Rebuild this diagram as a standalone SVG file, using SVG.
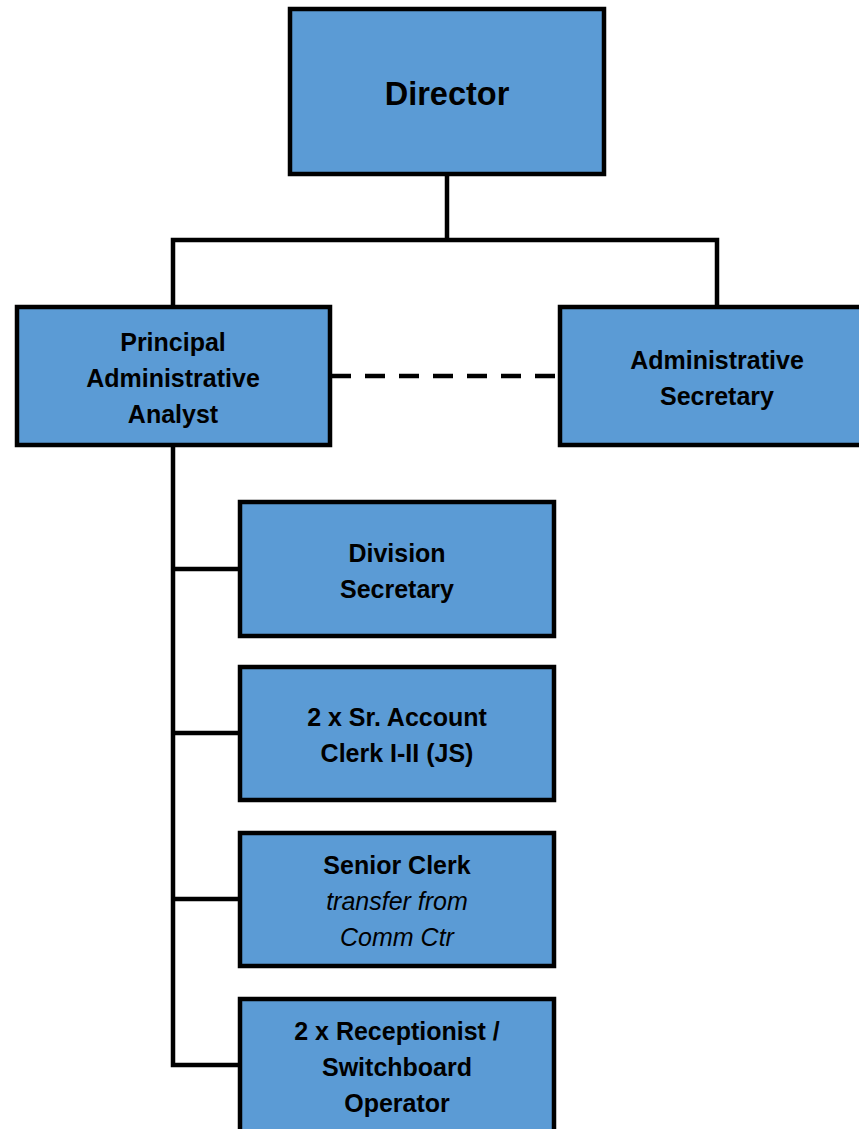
<svg xmlns="http://www.w3.org/2000/svg" width="859" height="1129" viewBox="0 0 859 1129">
<style>
.box{fill:#5B9BD5;stroke:#000;stroke-width:4.5}
.ln{fill:none;stroke:#000;stroke-width:4.5;stroke-linejoin:miter}
.dash{fill:none;stroke:#000;stroke-width:4.5;stroke-dasharray:20 14}
text{font-family:"Liberation Sans",Arial,sans-serif;font-weight:bold;font-size:25px;fill:#000;text-anchor:middle}
.t1{font-size:32.5px}
.it{font-weight:normal;font-style:italic}
</style>
<rect width="859" height="1129" fill="#fff"/>
<g id="connectors">
<path class="ln" d="M447 174V240M173 307V240H717V307"/>
<path class="dash" d="M331 376H558"/>
<path class="ln" d="M173 446V1065H240M173 569H240M173 733H240M173 899H240"/>
</g>
<g id="director"><rect class="box" x="290" y="9" width="314" height="165"/><text class="t1" x="447" y="105">Director</text></g>
<g id="principal"><rect class="box" x="17" y="307" width="313" height="138"/><text x="173" y="351">Principal</text><text x="173" y="387">Administrative</text><text x="173" y="423">Analyst</text></g>
<g id="admin-secretary"><rect class="box" x="560" y="307" width="310" height="138"/><text x="717" y="369">Administrative</text><text x="717" y="405">Secretary</text></g>
<g id="division-secretary"><rect class="box" x="240" y="502" width="314" height="134"/><text x="397" y="562">Division</text><text x="397" y="598">Secretary</text></g>
<g id="account-clerk"><rect class="box" x="240" y="667" width="314" height="133"/><text x="397" y="726">2 x Sr. Account</text><text x="397" y="762">Clerk I-II (JS)</text></g>
<g id="senior-clerk"><rect class="box" x="240" y="833" width="314" height="133"/><text x="397" y="874">Senior Clerk</text><text class="it" x="397" y="910">transfer from</text><text class="it" x="397" y="946">Comm Ctr</text></g>
<g id="receptionist"><rect class="box" x="240" y="999" width="314" height="140"/><text x="397" y="1040">2 x Receptionist /</text><text x="397" y="1076">Switchboard</text><text x="397" y="1112">Operator</text></g>
</svg>
